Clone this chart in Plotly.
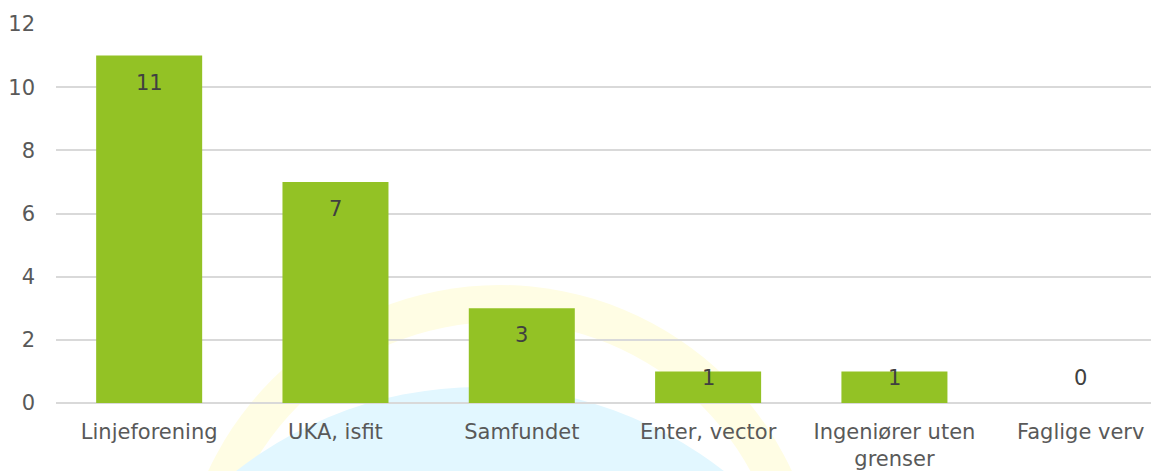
import plotly.graph_objects as go

categories = ["Linjeforening", "UKA, isfit", "Samfundet", "Enter, vector",
              "Ingeniører uten<br>grenser", "Faglige verv"]
values = [11, 7, 3, 1, 1, 0]
y_ticks = [0, 2, 4, 6, 8, 10, 12]

BAR = "#93C225"
TXT = "#595959"
FONT = "DejaVu Sans"

# page body has an 8px margin; figure geometry is set to compensate
OFF = 8
W, H = 1159 - OFF, 471 - OFF
# plot-area pixel geometry in window coordinates (for watermark placement only)
L, R, T, B = 56, 1159, 24, 403
def px(x):
    return (x - L) / (R - L)
def py(y):
    return (B - y) / (B - T)

fig = go.Figure()
fig.add_trace(go.Bar(
    x=list(range(len(categories))), y=values,
    marker=dict(color=BAR, line=dict(width=0)),
    hoverinfo="skip",
))

# data labels (inside end, kept above the baseline for short bars)
px_per_unit = (B - T) / 12
for i, v in enumerate(values):
    if v * px_per_unit >= 52:
        fig.add_annotation(x=i, y=v, text=str(v), showarrow=False, yshift=-27,
                           font=dict(family=FONT, size=21, color="#404040"))
    else:
        fig.add_annotation(x=i, y=0, text=str(v), showarrow=False, yshift=25,
                           font=dict(family=FONT, size=21, color="#404040"))

# faint background logo watermark
def circ(cx, cy, r, color):
    fig.add_shape(type="circle", xref="paper", yref="paper", layer="below",
                  x0=px(cx - r), x1=px(cx + r), y0=py(cy + r), y1=py(cy - r),
                  fillcolor=color, line=dict(width=0))

circ(500, 607, 322, "#FFFDE4")
circ(500, 607, 285, "#FFFFFF")
circ(480, 783, 396, "#E2F7FF")

fig.update_layout(
    width=W, height=H,
    margin=dict(l=L - OFF, r=0, t=T - OFF, b=H - (B - OFF)),
    paper_bgcolor="white", plot_bgcolor="rgba(0,0,0,0)",
    showlegend=False, bargap=0.431,
    font=dict(family=FONT, size=21, color=TXT),
    xaxis=dict(
        tickmode="array", tickvals=list(range(len(categories))), ticktext=categories,
        range=[-0.5, 5.42], showgrid=False, zeroline=False, showline=False,
        ticks="", ticklabelstandoff=14, automargin=False,
        tickfont=dict(family=FONT, size=21, color=TXT),
    ),
    yaxis=dict(
        range=[0, 12], tickvals=y_ticks, showgrid=True, gridcolor="#D9D9D9",
        gridwidth=1.5, zeroline=True, zerolinecolor="#D9D9D9", zerolinewidth=1.5,
        showline=False, ticks="", ticklabelstandoff=20, automargin=False,
        tickfont=dict(family=FONT, size=21, color=TXT),
    ),
)

fig.write_html("out.html")
